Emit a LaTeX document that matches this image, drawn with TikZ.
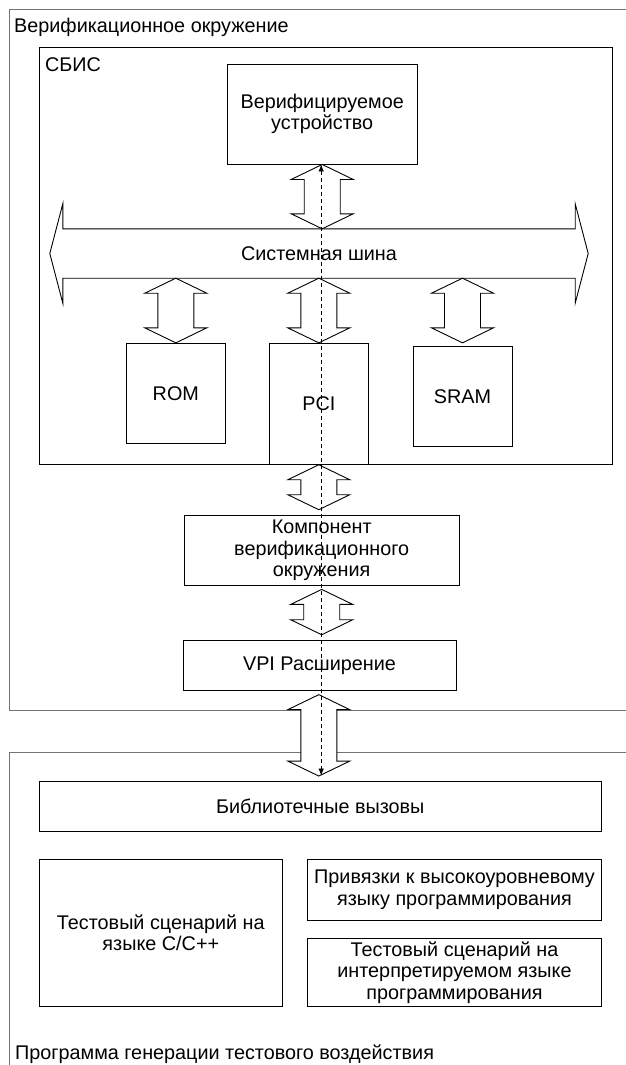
\documentclass[tikz,border=0pt]{standalone}
\usepackage{fontspec}
\setmainfont{Liberation Sans}
\usepackage{tikz}
\usetikzlibrary{positioning,arrows.meta,calc}

\definecolor{framegray}{gray}{0.45}
\tikzset{
  box/.style={draw, line width=0.9pt, align=center, inner sep=0pt},
  frame/.style={draw=framegray, line width=1pt},
  label/.style={anchor=west, inner sep=0pt},
  blockarrow/.style={draw, fill=white, line width=0.9pt, line join=miter},
}
% vertical double block arrow from #1 (top) to #2 (bottom)
\newcommand{\dblarrow}[2]{%
  \draw[blockarrow] let \p1=#1, \p2=#2 in
    (\x1,\y1) -- ++(31pt,-15pt) -- ++(-13pt,0pt) -- (\x1+18pt,\y2+15pt)
    -- ++(13pt,0pt) -- (\x1,\y2) -- ++(-31pt,15pt) -- ++(13pt,0pt)
    -- (\x1-18pt,\y1-15pt) -- ++(-13pt,0pt) -- cycle;}

\begin{document}
\begin{tikzpicture}[x=1pt, y=-1pt, font=\fontsize{19.8}{21.7}\selectfont]
    \clip (0,0) rectangle (626,1065);
    \fill[white] (0,0) rectangle (626,1065);

    % frames
    \draw[frame] (9.6,10) rectangle (640,710);
    \draw[frame] (9.6,752.3) rectangle (640,1090);
    \node[label] (envlabel) at (14,27) {Верификационное окружение};
    \node[label] (genlabel) at (15,1054) {Программа генерации тестового воздействия};

    % chip
    \draw[line width=0.9pt] (39.5,47.7) rectangle (612.8,464.3);
    \node[label] (chiplabel) at (45,65) {СБИС};

    \node[box, minimum width=189.5, minimum height=100] (device) at (322.2,114) {Верифицируемое\\устройство};
    \node[box, minimum width=99.5, minimum height=100] (rom) at (175.8,393.3) {ROM};
    \node[box, minimum width=98.5, minimum height=121] (pci) at (318.8,403.8) {PCI};
    \node[box, minimum width=99, minimum height=100] (sram) at (462.5,396.7) {SRAM};

    % system bus
    \node[minimum width=512, minimum height=49, inner sep=0pt] (bus) at (319,253.5) {Системная шина};
    \draw[line width=0.9pt] (bus.north west) -- (bus.north east) -- ([yshift=25pt]bus.north east)
        -- ([xshift=13pt]bus.east) -- ([yshift=-25pt]bus.south east) -- (bus.south east)
        -- (bus.south west) -- ([yshift=-25pt]bus.south west) -- ([xshift=-13pt]bus.west)
        -- ([yshift=25pt]bus.north west) -- cycle;

    \node[box, minimum width=274.6, minimum height=69.3] (comp) at (321.7,550.3) {Компонент\\верификационного\\окружения};
    \node[box, minimum width=273, minimum height=50] (vpi) at (319.5,665.7) {VPI Расширение};

    % test program
    \node[box, minimum width=562.6, minimum height=50] (lib) at (320.3,806) {Библиотечные вызовы};
    \node[box, minimum width=243.6, minimum height=147.7] (cscen) at (160.8,932.8) {Тестовый сценарий на\\языке С/С++};
    \node[box, minimum width=294.2, minimum height=61] (bind) at (454.5,889.5) {Привязки к высокоуровневому\\языку программирования};
    \node[box, minimum width=294.2, minimum height=68.4] (iscen) at (454.5,972.5) {Тестовый сценарий на\\интерпретируемом языке\\программирования};

    % block arrows
    \dblarrow{(device.south)}{(device.south |- bus.north)}
    \dblarrow{(rom.north |- bus.south)}{(rom.north)}
    \dblarrow{(pci.north |- bus.south)}{(pci.north)}
    \dblarrow{(sram.north |- bus.south)}{(sram.north |- rom.north)}
    \dblarrow{(pci.south)}{([yshift=5.5pt]pci.south |- comp.north)}
    \dblarrow{([yshift=-4pt]comp.south)}{([yshift=5.5pt]comp.south |- vpi.north)}
    \dblarrow{([yshift=-3.5pt]pci.south |- vpi.south)}{([yshift=4.5pt]pci.south |- lib.north)}

    % call path
    \draw[dashed, dash pattern=on 4pt off 3pt, line width=0.8pt, {Latex[length=7pt,width=5.5pt]}-{Latex[length=7pt,width=5.5pt]}, shorten >=5pt]
        ([xshift=-1pt]device.south) -- ([xshift=-1pt]device.south |- lib.north);
\end{tikzpicture}
\end{document}
